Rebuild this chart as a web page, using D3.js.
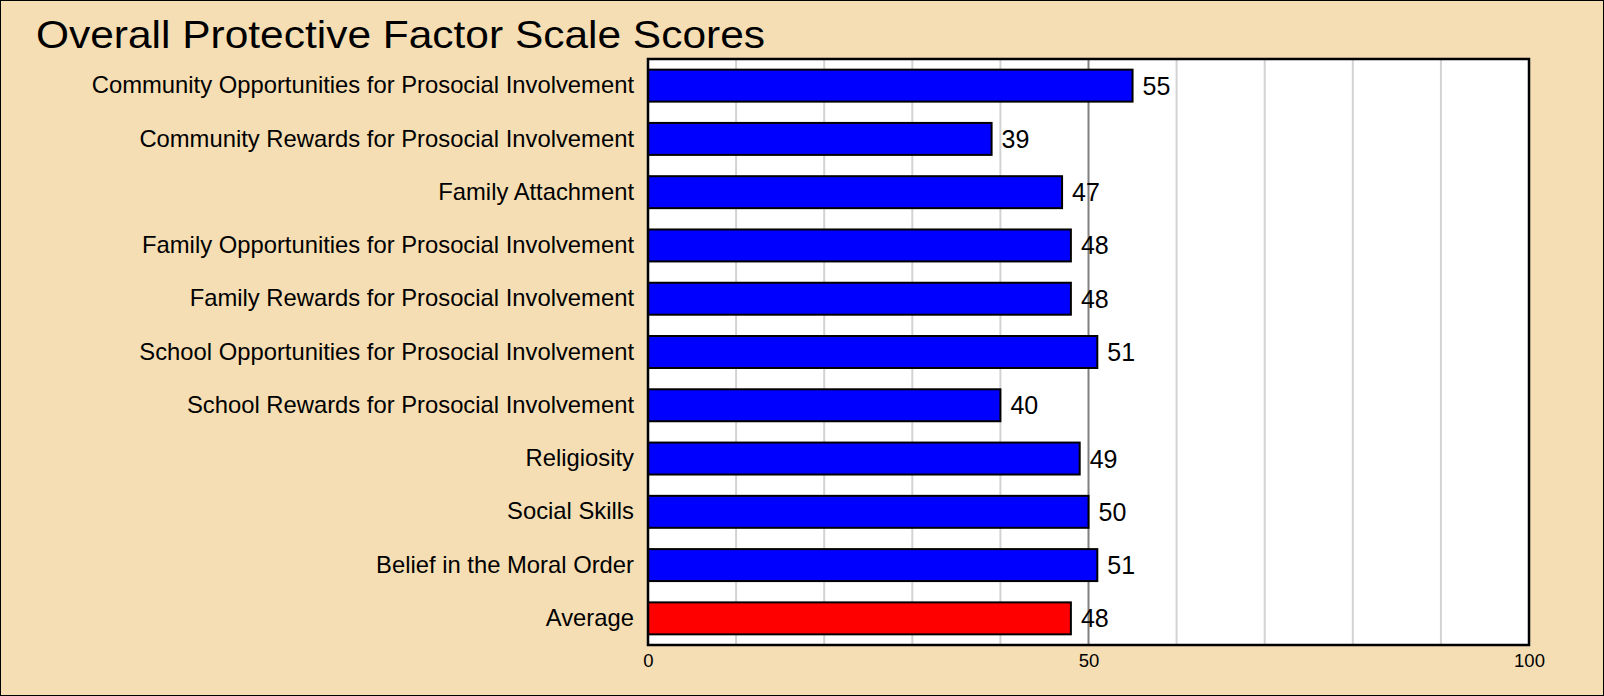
<!DOCTYPE html>
<html>
<head>
<meta charset="utf-8">
<script src="https://cdn.jsdelivr.net/npm/d3@7/dist/d3.min.js"></script>
<style>
  html, body { margin: 0; padding: 0; background: #F5DEB3; }
  svg { display: block; font-family: "Liberation Sans", Arial, sans-serif; }
</style>
</head>
<body>
<svg id="chart" width="1604" height="696"></svg>
<script>
var categories = [
  "Community Opportunities for Prosocial Involvement",
  "Community Rewards for Prosocial Involvement",
  "Family Attachment",
  "Family Opportunities for Prosocial Involvement",
  "Family Rewards for Prosocial Involvement",
  "School Opportunities for Prosocial Involvement",
  "School Rewards for Prosocial Involvement",
  "Religiosity",
  "Social Skills",
  "Belief in the Moral Order",
  "Average"
];
var scores = [55, 39, 47, 48, 48, 51, 40, 49, 50, 51, 48];
var tickLabels = [0, 50, 100];
var gridValues = [10, 20, 30, 40, 50, 60, 70, 80, 90];

var W = 1604, H = 696;
var margin = {left: 648, right: 75, top: 59, bottom: 51};
var svg = d3.select("#chart");

// outer frame
svg.append("rect").attr("x", 0.5).attr("y", 0.5).attr("width", W - 1).attr("height", H - 1)
  .attr("fill", "#F5DEB3").attr("stroke", "#000").attr("stroke-width", 1);

// title is a bit wider in the original
svg.append("text").attr("x", 36).attr("y", 48)
  .attr("font-size", 39).attr("fill", "#000")
  .attr("textLength", 729).attr("lengthAdjust", "spacingAndGlyphs")
  .text("Overall Protective Factor Scale Scores");

var x = d3.scaleLinear().domain([0, 100]).range([margin.left, W - margin.right]);
var y = d3.scaleBand().domain(categories).range([margin.top, H - margin.bottom]).paddingInner(0.4).paddingOuter(0.2);

// plot area
svg.append("rect").attr("x", x(0)).attr("y", margin.top)
  .attr("width", x(100) - x(0)).attr("height", H - margin.bottom - margin.top)
  .attr("fill", "#fff");

svg.append("g").selectAll("line").data(gridValues).enter().append("line")
  .attr("x1", function (d) { return x(d); }).attr("x2", function (d) { return x(d); })
  .attr("y1", margin.top).attr("y2", H - margin.bottom)
  .attr("stroke", function (d) { return d == 50 ? "#808080" : "#d3d3d3"; })
  .attr("stroke-width", 2);

svg.append("g").selectAll("rect").data(scores).enter().append("rect")
  .attr("x", x(0))
  .attr("y", function (d, i) { return y(categories[i]); })
  .attr("width", function (d) { return x(d) - x(0); })
  .attr("height", y.bandwidth())
  .attr("fill", function (d, i) { return categories[i] == "Average" ? "#ff0000" : "#0000ff"; })
  .attr("stroke", "#000").attr("stroke-width", 2);

svg.append("g").selectAll("text").data(scores).enter().append("text")
  .attr("x", function (d) { return x(d) + 10; })
  .attr("y", function (d, i) { return y(categories[i]) + y.bandwidth() / 2; })
  .attr("dy", "0.36em").attr("font-size", 25)
  .text(function (d) { return d; });

// category labels
var yAxis = d3.axisLeft(y).tickSize(0).tickPadding(14);
var gy = svg.append("g").attr("transform", "translate(" + x(0) + ",0)").call(yAxis);
gy.select(".domain").remove();
gy.selectAll("text").attr("font-size", 23.8).attr("fill", "#000").attr("font-family", "Liberation Sans, Arial, sans-serif");

var xAxis = d3.axisBottom(x).tickValues(tickLabels).tickSize(0).tickPadding(9);
var gx = svg.append("g").attr("transform", "translate(0," + (H - margin.bottom) + ")").call(xAxis);
gx.select(".domain").remove();
gx.selectAll("text").attr("font-size", 18.5).attr("fill", "#000").attr("font-family", "Liberation Sans, Arial, sans-serif");

// plot border
svg.append("rect").attr("x", x(0)).attr("y", margin.top)
  .attr("width", x(100) - x(0)).attr("height", H - margin.bottom - margin.top)
  .attr("fill", "none").attr("stroke", "#000").attr("stroke-width", 2.5);
</script>
</body>
</html>
